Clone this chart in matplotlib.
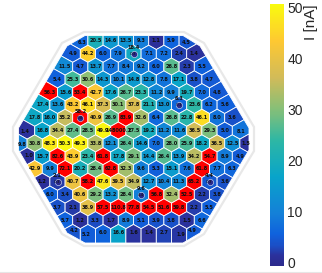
import numpy as np
import matplotlib
matplotlib.use("Agg")
import matplotlib.pyplot as plt
from matplotlib.collections import PolyCollection
from matplotlib.colors import LinearSegmentedColormap, Normalize
from matplotlib.lines import Line2D
from matplotlib.patches import Polygon

# current per sensor, row by row from the top
row_00 = [6.3, 20.5, 14.6, 13.5, 9.3, 1.1, 5.9, 4.5]
row_01 = [4.9, 44.2, 6.0, 7.9, 18.4, 7.1, 7.2, 2.4, 1.4]
row_02 = [11.5, 4.7, 13.7, 7.7, 8.4, 9.2, 6.0, 26.8, 2.3, 5.5]
row_03 = [5.4, 25.3, 30.6, 14.3, 10.1, 14.8, 12.8, 7.8, 17.1, 3.8, 4.7]
row_04 = [56.3, 15.6, 53.4, 42.7, 17.6, 26.7, 23.3, 11.2, 9.9, 19.7, 7.0, 4.8]
row_05 = [17.4, 13.6, 43.2, 46.1, 37.3, 30.1, 37.8, 21.1, 13.0, 6.3, 23.6, 6.2, 5.6]
row_06 = [17.8, 16.0, 35.2, 58.2, 40.9, 26.9, 83.9, 32.6, 6.4, 26.8, 22.8, 46.1, 8.0, 3.6]
row_07 = [1.4, 16.8, 34.4, 27.4, 28.5, 49.9, 148000.1, 27.5, 19.2, 11.2, 11.6, 36.5, 29.3, 5.0, 8.1]
row_08 = [9.8, 30.8, 48.3, 50.3, 49.3, 33.8, 12.1, 26.4, 14.6, 7.0, 28.0, 25.9, 18.2, 36.5, 12.5, 1.5]
row_09 = [1.0, 15.7, 82.6, 43.9, 23.4, 61.8, 17.8, 29.1, 14.4, 26.4, 13.9, 34.2, 54.7, 8.9, 4.9]
row_10 = [42.9, 9.9, 72.1, 20.2, 28.4, 62.8, 32.3, 9.6, 5.3, 15.1, 7.6, 61.8, 7.7, 6.3]
row_11 = [1.2, 2.1, 40.7, 58.2, 47.6, 39.5, 34.9, 12.7, 10.4, 11.3, 65.2, 4.4, 3.6]
row_12 = [6.0, 3.4, 40.6, 29.2, 13.2, 28.4, 9.6, 56.8, 32.4, 52.5, 2.2, 3.8]
row_13 = [3.7, 2.1, 38.9, 57.5, 110.8, 77.8, 54.5, 51.6, 59.8, 2.2, 5.5]
row_14 = [5.7, 1.2, 3.3, 1.7, 8.9, 5.1, 3.9, 3.8, 1.5, 6.6]
row_15 = [4.2, 5.2, 6.0, 16.6, 1.6, 1.4, 2.7, 1.9, 4.9]
rows = [row_00, row_01, row_02, row_03, row_04, row_05, row_06, row_07,
        row_08, row_09, row_10, row_11, row_12, row_13, row_14, row_15]

# switched off sensors: (row, index in row, reading in the dot)
off_sensors = [(1, 4, 0.3), (5, 9, 0.3), (6, 3, 0.8), (11, 1, 0.3), (11, 11, 0.3), (12, 6, 4.4)]

# labels of the cut corner cells sit off centre, px shift
label_shift = {(0, 0): (2, 2), (0, 7): (-1, 2), (7, 0): (-2, 1), (7, 14): (1, 1),
               (8, 0): (3, 1), (8, 15): (-2, 0), (9, 0): (2, -1),
               (15, 0): (1, -2), (15, 1): (-2, 1), (15, 7): (2, 1), (15, 8): (-2, -2)}

colorbar_ticks = [0, 10, 20, 30, 40, 50]

W, H = 322, 273
X0, Y0, PX, PY = 133.5, 41.0, 15.2, 12.8  # px of grid origin and of one grid step
ROW_STEP = np.sqrt(3) / 2

cmap = LinearSegmentedColormap.from_list("sensor", [
    (0.00, "#2c2a8c"), (0.04, "#2b319c"), (0.08, "#1a50c8"), (0.12, "#0f62dd"),
    (0.20, "#1480d8"), (0.34, "#08a4ca"), (0.48, "#2eb7a4"), (0.60, "#87bf77"),
    (0.72, "#d1bb59"), (0.86, "#fec832"), (1.00, "#f9fb0e")])
cmap.set_over("#ff0000")
norm = Normalize(-0.6, 50.6)


def to_grid(points):
    pts = np.array(points, dtype=float)
    return np.column_stack([(pts[:, 0] - X0) / PX, (pts[:, 1] - Y0) / PY])


def cut_half_plane(poly, centre, other):
    # keep the part of poly that is nearer to centre than to other
    mid = (centre + other) / 2
    normal = other - centre
    dist = (poly - mid) @ normal
    out = []
    for k in range(len(poly)):
        a, b = poly[k], poly[(k + 1) % len(poly)]
        da, db = dist[k], dist[(k + 1) % len(poly)]
        if da <= 0:
            out.append(a)
        if da * db < 0:
            out.append(a + (b - a) * da / (da - db))
    return np.array(out)


fig = plt.figure(figsize=(W / 100, H / 100), dpi=100)
ax = fig.add_axes([0, 0, 1, 1])
ax.set_xlim(-X0 / PX, (W - X0) / PX)
ax.set_ylim((H - Y0) / PY, -Y0 / PY)
ax.axis("off")

outline = [(84, 32), (184, 32), (204, 43), (254, 127), (254, 151), (204, 234),
           (184, 246), (84, 246), (62, 234), (13, 151), (13, 127), (62, 43)]
ax.add_patch(Polygon(to_grid(outline), closed=True, fill=False, ec="#e8e8e8", lw=1.6))

inner = [(85, 35.5), (183, 35.5), (200, 46), (249, 128), (249, 150), (200, 233),
         (183, 243), (85, 243), (67, 233), (18.5, 150), (18.5, 128), (67, 46)]
border = to_grid(inner) * [1, ROW_STEP]

centres = []
for r, row in enumerate(rows):
    first = -(len(row) - 1) / 2
    centres += [(first + i, r * ROW_STEP) for i in range(len(row))]
centres = np.array(centres)

# cells are the nearest-sensor regions inside the border
cells = []
for c in centres:
    poly = border
    for o in centres[np.hypot(*(centres - c).T) < 3]:
        if not np.array_equal(o, c):
            poly = cut_half_plane(poly, c, o)
    cells.append(poly / [1, ROW_STEP])

values = np.concatenate(rows)
coll = PolyCollection(cells, array=values, cmap=cmap, norm=norm,
                      edgecolors="white", linewidths=0.6)
ax.add_collection(coll)

for r, row in enumerate(rows):
    first = -(len(row) - 1) / 2
    for i, val in enumerate(row):
        dx, dy = label_shift.get((r, i), (0, 0))
        is_off = any(o[0] == r and o[1] == i for o in off_sensors)
        ax.text(first + i + dx / PX, r + dy / PY - (0.5 if is_off else 0), f"{val:.1f}",
                ha="center", va="center", fontsize=3.6, color="#101010",
                fontweight="bold", zorder=5)

for r, i, inside in off_sensors:
    u = -(len(rows[r]) - 1) / 2 + i
    ax.scatter([u], [r], s=20, color="#2c2a8c", edgecolors="#d8e4f4", linewidths=0.4, zorder=4)
    ax.text(u, r, f"{inside:.1f}", ha="center", va="center", fontsize=3, color="#101010", zorder=5)

cax = fig.add_axes([270 / W, 1 - 266 / H, 14 / W, 262 / H])
sm = plt.cm.ScalarMappable(norm=norm, cmap=cmap)
cb = fig.colorbar(sm, cax=cax, ticks=colorbar_ticks)
cb.outline.set_visible(False)
cb.ax.tick_params(length=0, pad=2.5, labelsize=10, colors="#262626")
for t in cb.ax.get_yticklabels():
    t.set_fontfamily("Liberation Sans")
cb.set_label("I [nA]", loc="top", fontsize=11, color="#262626", labelpad=1, family="Liberation Sans")

fig.add_artist(Line2D([0, 1], [1 - 271.5 / H] * 2, color="#e6e6e6", lw=0.8))

fig.savefig("out.png", dpi=100)
